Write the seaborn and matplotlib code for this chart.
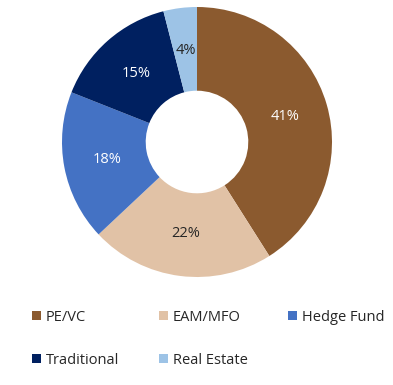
import seaborn as sns
import matplotlib.pyplot as plt
from matplotlib.patches import Patch

categories = ["PE/VC", "EAM/MFO", "Hedge Fund", "Traditional", "Real Estate"]
shares = [41, 22, 18, 15, 4]
colors = ["#8B5A2F", "#E1C2A6", "#4472C4", "#002060", "#9DC3E6"]
text_colors = ["white", "#262626", "white", "white", "#262626"]

sns.set_theme(style="white")
plt.rcParams['font.family'] = ['Open Sans', 'DejaVu Sans']

fig = plt.figure(figsize=(3.93, 3.85), dpi=100)
ax = fig.add_axes([62 / 393, 108 / 385, 270 / 393, 270 / 385])

wedges, texts, autotexts = ax.pie(
    shares, colors=colors, startangle=90, counterclock=False,
    wedgeprops=dict(width=0.62, edgecolor="white", linewidth=0),
    autopct=lambda p: f"{p:.0f}%", pctdistance=0.68,
    textprops=dict(fontsize=10.5))
for t, c in zip(autotexts, text_colors):
    t.set_color(c)
ax.set_xlim(-1, 1)
ax.set_ylim(-1, 1)
ax.set_aspect("equal")

# legend fills column by column, so reorder to read row by row
order = [0, 3, 1, 4, 2]
handles = [Patch(facecolor=colors[i], edgecolor="none", label=categories[i]) for i in order]
fig.legend(handles=handles, ncol=3, loc="upper left", bbox_to_anchor=(26 / 393, 1 - 304 / 385),
           frameon=False, fontsize=10.5, handlelength=0.6, handleheight=0.6, handletextpad=0.35,
           columnspacing=2.75, labelspacing=1.9, borderaxespad=0)

fig.savefig("out.png", dpi=100)
